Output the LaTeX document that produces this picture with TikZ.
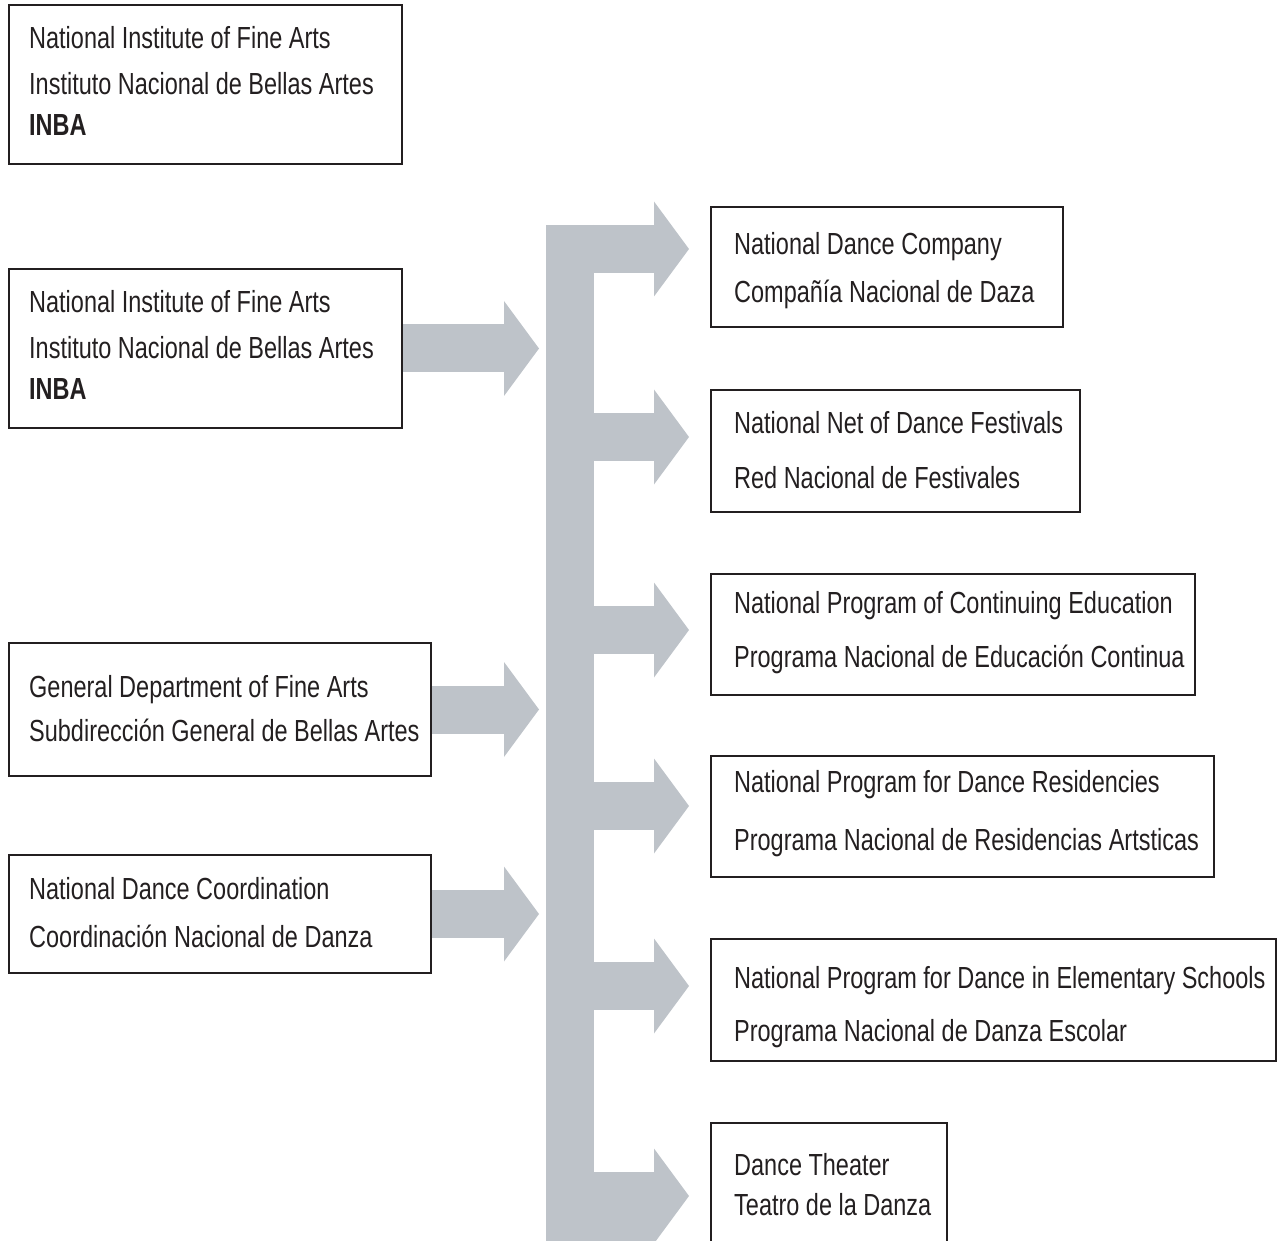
\documentclass[tikz,border=0pt]{standalone}
\usepackage{fontspec}
\setmainfont{Liberation Sans}[FakeStretch=0.77]
\usetikzlibrary{arrows.meta,backgrounds}
\definecolor{gg}{RGB}{190, 195, 201}
\definecolor{kk}{RGB}{35, 31, 32}
\def\shaft{48pt}
\def\headlen{35pt}
\def\headwid{95pt}
\newcommand{\orgbox}[5]{\node[draw=kk,line width=2.5pt,rectangle,anchor=north west,outer sep=0pt,inner sep=0pt,minimum width=#4,minimum height=#5] (#3) at (#1,#2) {};}
\newcommand{\orgline}[4]{\node[anchor=base west,inner sep=0pt,text=kk,font=\fontsize{30.5}{36}\selectfont] (#3) at (#1,#2) {#4};}
\tikzset{fat/.style={draw=gg,line width=\shaft,-{Triangle[length=\headlen,width=\headwid,line width=0pt]}}}

\begin{document}
\begin{tikzpicture}[x=1pt,y=-1pt]
	\useasboundingbox (0,0) rectangle (1278,1241);
	\clip (0,0) rectangle (1278,1241);

	% left column
	\orgbox{9}{5}{inbaTop}{393pt}{159pt}
	\orgline{29}{49}{inbaTop-1}{National Institute of Fine Arts}
	\orgline{29}{95}{inbaTop-2}{Instituto Nacional de Bellas Artes}
	\orgline{29}{136}{inbaTop-3}{\textbf{INBA}}

	\orgbox{9}{269}{inba}{393pt}{159pt}
	\orgline{29}{313}{inba-1}{National Institute of Fine Arts}
	\orgline{29}{359}{inba-2}{Instituto Nacional de Bellas Artes}
	\orgline{29}{400}{inba-3}{\textbf{INBA}}

	\orgbox{9}{643}{sgba}{422pt}{133pt}
	\orgline{29}{697}{sgba-1}{General Department of Fine Arts}
	\orgline{29}{741}{sgba-2}{Subdirección General de Bellas Artes}

	\orgbox{9}{855}{cnd}{422pt}{118pt}
	\orgline{29}{899}{cnd-1}{National Dance Coordination}
	\orgline{29}{947}{cnd-2}{Coordinación Nacional de Danza}

	% right column
	\orgbox{711}{207}{cnda}{352pt}{120pt}
	\orgline{734}{255}{cnda-1}{National Dance Company}
	\orgline{734}{303}{cnda-2}{Compañía Nacional de Daza}

	\orgbox{711}{390}{rnf}{369pt}{122pt}
	\orgline{734}{434}{rnf-1}{National Net of Dance Festivals}
	\orgline{734}{488}{rnf-2}{Red Nacional de Festivales}

	\orgbox{711}{574}{pnec}{484pt}{121pt}
	\orgline{734}{613}{pnec-1}{National Program of Continuing Education}
	\orgline{734}{667}{pnec-2}{Programa Nacional de Educación Continua}

	\orgbox{711}{756}{pnra}{503pt}{121pt}
	\orgline{734}{792}{pnra-1}{National Program for Dance Residencies}
	\orgline{734}{850}{pnra-2}{Programa Nacional de Residencias Artsticas}

	\orgbox{711}{939}{pnde}{565pt}{122pt}
	\orgline{734}{988}{pnde-1}{National Program for Dance in Elementary Schools}
	\orgline{734}{1041}{pnde-2}{Programa Nacional de Danza Escolar}

	\orgbox{711}{1123}{tdd}{236pt}{177pt}
	\orgline{734}{1175}{tdd-1}{Dance Theater}
	\orgline{734}{1215}{tdd-2}{Teatro de la Danza}

	% bus and arrows
	\coordinate (bustop) at (570,225);
	\coordinate (busfoot) at (570,1250);
	\coordinate (tap1) at (570,249);
	\coordinate (tap2) at (570,437);
	\coordinate (tap3) at (570,630);
	\coordinate (tap4) at (570,806);
	\coordinate (tap5) at (570,986);
	\coordinate (tap6) at (570,1196);

	\begin{scope}[on background layer]
		\draw[draw=gg,line width=\shaft] (bustop) -- (busfoot);
		\fill[gg] (546,1196) rectangle (654,1250);

		\draw[fat,shorten >=31pt] (inba.east) -- (inba.east -| bustop);
		\draw[fat,shorten >=31pt] (sgba.east) -- (sgba.east -| bustop);
		\draw[fat,shorten >=31pt] (cnd.east) -- (cnd.east -| bustop);

		\draw[fat,shorten >=22pt] (tap1) -- (tap1 -| cnda.west);
		\draw[fat,shorten >=22pt] (tap2) -- (tap2 -| rnf.west);
		\draw[fat,shorten >=22pt] (tap3) -- (tap3 -| pnec.west);
		\draw[fat,shorten >=22pt] (tap4) -- (tap4 -| pnra.west);
		\draw[fat,shorten >=22pt] (tap5) -- (tap5 -| pnde.west);
		\draw[fat,shorten >=22pt] (tap6) -- (tap6 -| tdd.west);
	\end{scope}
\end{tikzpicture}
\end{document}
